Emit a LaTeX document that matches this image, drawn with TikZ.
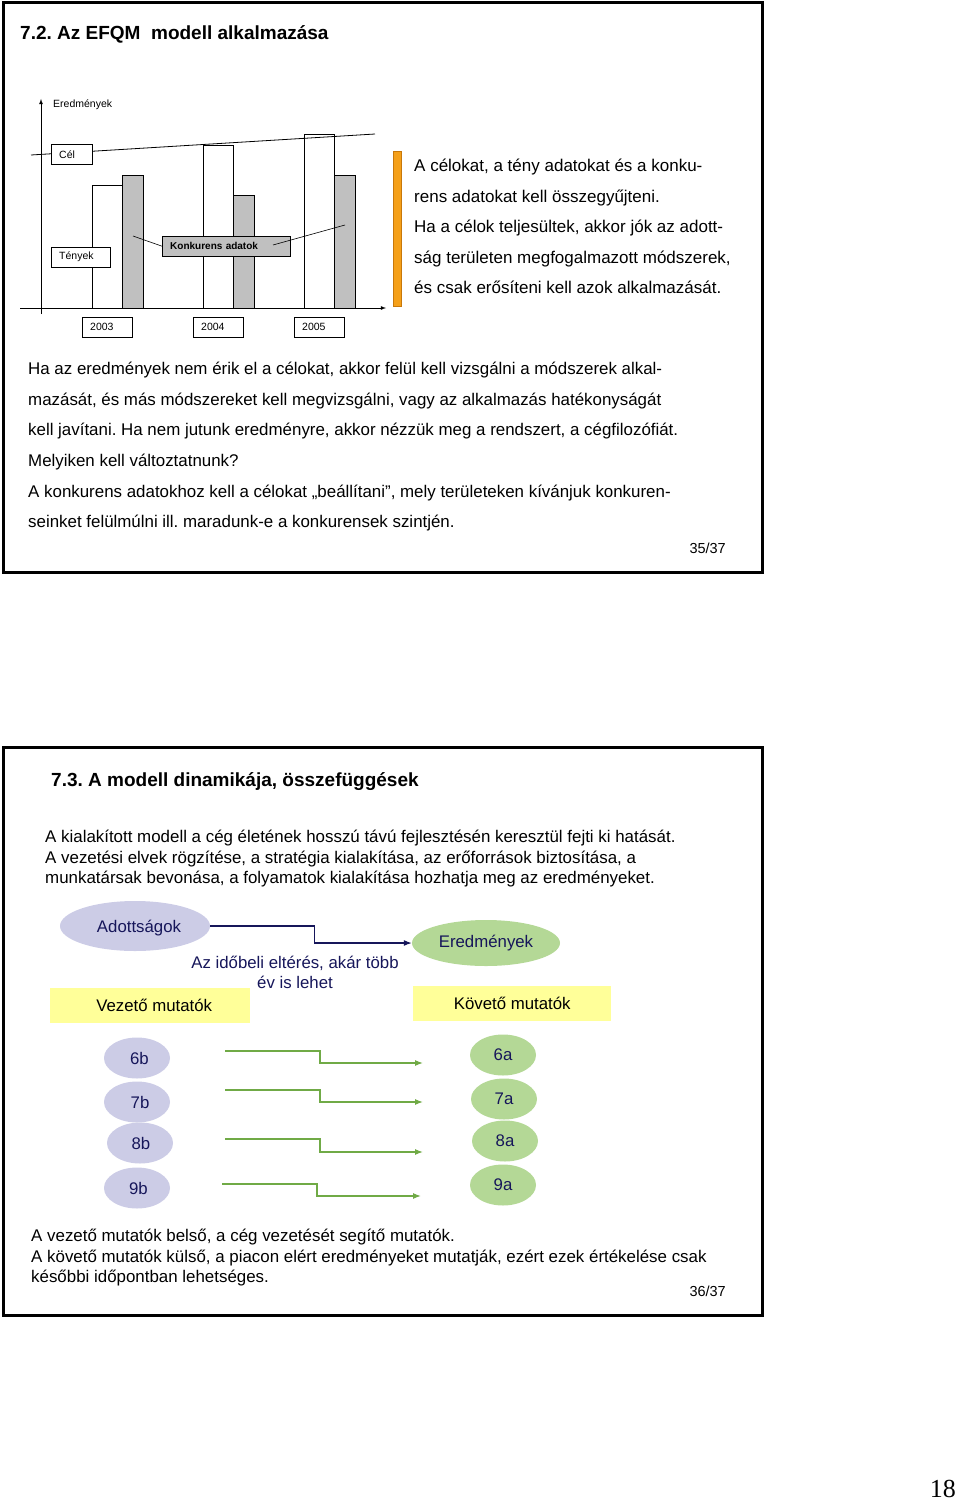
\documentclass[tikz,border=0pt]{standalone}
\usepackage{fontspec}
\setmainfont{Liberation Sans}
\newfontfamily\pagenumfont{Liberation Serif}
\usetikzlibrary{shapes.geometric, arrows, arrows.meta}
\frenchspacing

\definecolor{lavender}{RGB}{204,204,230}
\definecolor{leafgreen}{RGB}{180,216,150}
\definecolor{paleyellow}{RGB}{255,255,153}
\definecolor{inkblue}{RGB}{22,22,90}
\definecolor{arrowgreen}{RGB}{112,170,70}
\definecolor{bargray}{RGB}{192,192,192}
\definecolor{barorange}{RGB}{245,160,25}
\definecolor{orangeedge}{RGB}{200,120,10}

\newcommand{\fsize}[2]{\fontsize{#1}{#2}\selectfont}

\tikzstyle{slideframe} = [line width=3pt]
\tikzstyle{headline} = [anchor=base west, inner sep=0, font=\bfseries\fsize{19}{22}]
\tikzstyle{bodytext} = [anchor=north west, inner sep=0, align=left]
\tikzstyle{smallbox} = [draw, fill=white, anchor=north west, inner xsep=8pt, minimum height=20pt, align=left, font=\fsize{10.5}{12}]
\tikzstyle{factbar} = [draw, fill=white, line width=0.6pt]
\tikzstyle{compbar} = [draw, fill=bargray, line width=0.6pt]
\tikzstyle{chartaxis} = [line width=0.8pt, -latex]
\tikzstyle{cause} = [ellipse, fill=lavender, text=inkblue, font=\fsize{16.8}{19}]
\tikzstyle{effect} = [ellipse, fill=leafgreen, text=inkblue, font=\fsize{16.8}{19}]
\tikzstyle{indicator} = [rectangle, fill=paleyellow, anchor=north west, font=\fsize{16.8}{19}]
\tikzstyle{arrow} = [line width=1.2pt, -{Latex[length=8pt, width=6pt]}]

\begin{document}
\begin{tikzpicture}[x=1pt, y=-1pt]
    \useasboundingbox (0,0) rectangle (960,1501);

    % slide 35/37
    \draw [slideframe] (3,3) rectangle (762,572);
    \node [headline] (title1) at (20,40) {7.2. Az EFQM~ modell alkalmazása};

    \draw [chartaxis] (41,314) -- (41,99);
    \draw [chartaxis] (20,308) -- (386,308);
    \node [anchor=west, inner sep=0, font=\fsize{10.5}{12}] (ylabel) at (53,105) {Eredmények};

    \draw [factbar] (92,185) rectangle (122,308);
    \draw [compbar] (122,175) rectangle (143,308);
    \draw [factbar] (203,145) rectangle (233,308);
    \draw [compbar] (233,195) rectangle (254,308);
    \draw [factbar] (304,134) rectangle (334,308);
    \draw [compbar] (334,175) rectangle (355,308);

    \draw [line width=0.8pt] (31,155) -- (375,134);
    \node [smallbox, text width=25pt] (cel) at (51,144) {Cél};
    \node [smallbox, text width=43pt] (tenyek) at (51,247) {Tények};
    \node [smallbox, fill=bargray, text width=112pt, font=\bfseries\fsize{10}{12}] (konk) at (162,236) {Konkurens adatok};
    \coordinate (k1) at (133,236);
    \coordinate (k2) at (273,245);
    \coordinate (k3) at (345,225);
    \draw [line width=0.6pt] (k1) -- (konk.west);
    \draw [line width=0.6pt] (k2) -- (k3);

    \node [smallbox, text width=34pt] (y2003) at (82,317) {2003};
    \node [smallbox, text width=34pt] (y2004) at (193,317) {2004};
    \node [smallbox, text width=34pt] (y2005) at (294,317) {2005};

    \draw [fill=barorange, draw=orangeedge, line width=0.6pt] (393,151) rectangle (401,306);
    \node [bodytext, font=\fsize{17}{30.5}] (note1) at (414,159) {A célokat, a tény adatokat és a konku-\\rens adatokat kell összegyűjteni.\\Ha a célok teljesültek, akkor jók az adott-\\ság területen megfogalmazott módszerek,\\és csak erősíteni kell azok alkalmazását.};

    \node [bodytext, font=\fsize{16.9}{30.6}] (para1) at (28,362) {Ha az eredmények nem érik el a célokat, akkor felül kell vizsgálni a módszerek alkal-\\mazását, és más módszereket kell megvizsgálni, vagy az alkalmazás hatékonyságát\\kell javítani. Ha nem jutunk eredményre, akkor nézzük meg a rendszert, a cégfilozófiát.\\Melyiken kell változtatnunk?\\A konkurens adatokhoz kell a célokat „beállítani”, mely területeken kívánjuk konkuren-\\seinket felülmúlni ill. maradunk-e a konkurensek szintjén.};
    \node [anchor=base east, inner sep=0, font=\fsize{14.5}{16}] (page35) at (726,553) {35/37};

    % slide 36/37
    \draw [slideframe] (3,747) rectangle (762,1315);
    \node [headline] (title2) at (51,786) {7.3. A modell dinamikája, összefüggések};
    \node [bodytext, font=\fsize{16.9}{20.5}] (para2) at (45,830) {A kialakított modell a cég életének hosszú távú fejlesztésén keresztül fejti ki hatását.\\A vezetési elvek rögzítése, a stratégia kialakítása, az erőforrások biztosítása, a\\munkatársak bevonása, a folyamatok kialakítása hozhatja meg az eredményeket.};

    \node [cause, minimum width=150pt, minimum height=50pt, text depth=0pt, xshift=0pt] (adott) at (135,926) {\hspace*{8pt}Adottságok};
    \node [effect, minimum width=148pt, minimum height=46pt] (ered) at (486,943) {Eredmények};
    \draw [arrow, color=inkblue] (adott.east) -- ++(104,0) |- (ered.west);
    \node [align=center, text=inkblue, font=\fsize{16.8}{20}] (delay) at (295,972) {Az időbeli eltérés, akár több\\év is lehet};

    \node [indicator, minimum width=200pt, minimum height=35pt] (vezeto) at (50,988) {\hspace*{8pt}Vezető mutatók};
    \node [indicator, minimum width=198pt, minimum height=35pt] (koveto) at (413,986) {Követő mutatók};

    \node [cause, minimum width=66pt, minimum height=41pt] (b6) at (137,1058) {\hspace*{5pt}6b};
    \node [cause, minimum width=66pt, minimum height=41pt] (b7) at (137,1102) {\hspace*{6pt}7b};
    \node [cause, minimum width=66pt, minimum height=41pt] (b8) at (140,1143) {\hspace*{2pt}8b};
    \node [cause, minimum width=66pt, minimum height=41pt] (b9) at (137,1188) {\hspace*{3pt}9b};
    \node [effect, minimum width=66pt, minimum height=41pt] (a6) at (503,1055) {6a};
    \node [effect, minimum width=66pt, minimum height=41pt] (a7) at (504,1099) {7a};
    \node [effect, minimum width=66pt, minimum height=41pt] (a8) at (505,1141) {8a};
    \node [effect, minimum width=66pt, minimum height=41pt] (a9) at (503,1185) {9a};

    \coordinate (s6) at (225,1051);
    \coordinate (e6) at (423,1063);
    \coordinate (s7) at (225,1090);
    \coordinate (e7) at (423,1102);
    \coordinate (s8) at (225,1139);
    \coordinate (e8) at (423,1152);
    \coordinate (s9) at (222,1184);
    \coordinate (e9) at (421,1196);
    \draw [arrow, color=arrowgreen] (s6) -- ++(95,0) |- (e6);
    \draw [arrow, color=arrowgreen] (s7) -- ++(95,0) |- (e7);
    \draw [arrow, color=arrowgreen] (s8) -- ++(95,0) |- (e8);
    \draw [arrow, color=arrowgreen] (s9) -- ++(95,0) |- (e9);

    \node [bodytext, font=\fsize{16.9}{20.5}] (para3) at (31,1229) {A vezető mutatók belső, a cég vezetését segítő mutatók.\\A követő mutatók külső, a piacon elért eredményeket mutatják, ezért ezek értékelése csak\\későbbi időpontban lehetséges.};
    \node [anchor=base east, inner sep=0, font=\fsize{14.5}{16}] (page36) at (726,1296) {36/37};

    \node [anchor=base east, inner sep=0, font=\pagenumfont\fsize{26}{28}] (sheet) at (956,1497) {18};
\end{tikzpicture}
\end{document}
